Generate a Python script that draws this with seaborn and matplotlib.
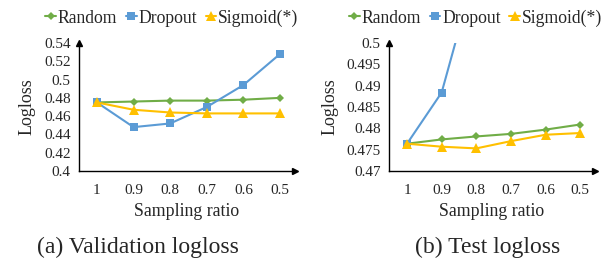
import matplotlib
matplotlib.use("Agg")
import matplotlib.pyplot as plt
import seaborn as sns
import numpy as np
import pandas as pd

ratios = ["1", "0.9", "0.8", "0.7", "0.6", "0.5"]
methods = ["Random", "Dropout", "Sigmoid(*)"]

# (a) validation logloss
val_random = [0.475, 0.476, 0.477, 0.477, 0.478, 0.480]
val_dropout = [0.475, 0.448, 0.452, 0.470, 0.494, 0.528]
val_sigmoid = [0.475, 0.467, 0.464, 0.463, 0.463, 0.463]

# (b) test logloss (dropout leaves the plotted range after 0.9)
test_random = [0.4764, 0.4774, 0.4781, 0.4787, 0.4797, 0.4809]
test_dropout = [0.4764, 0.4884, 0.5178, 0.530, 0.545, 0.560]
test_sigmoid = [0.4764, 0.4757, 0.4753, 0.4770, 0.4785, 0.4789]

colors = {"Random": "#70AD47", "Dropout": "#5B9BD5", "Sigmoid(*)": "#FFC000"}
markers = {"Random": "D", "Dropout": "s", "Sigmoid(*)": "^"}
msizes = {"Random": 4.5, "Dropout": 5.5, "Sigmoid(*)": 7}


def to_frame(r, d, s):
    rows = []
    for name, vals in zip(methods, [r, d, s]):
        for i, v in enumerate(vals):
            rows.append({"pos": i, "method": name, "logloss": v})
    return pd.DataFrame(rows)


sns.set_style("white")
plt.rcParams["font.family"] = ["Liberation Serif", "DejaVu Serif"]

fig = plt.figure(figsize=(6.09, 2.61), dpi=100)
ax1 = fig.add_axes([0.1297, 0.3448, 0.3547, 0.4904])
ax2 = fig.add_axes([0.6388, 0.3448, 0.3383, 0.4904])


def draw(ax, df, ylim, yticks, xlim, legx):
    for name in methods:
        sub = df[df.method == name]
        sns.lineplot(data=sub, x="pos", y="logloss", ax=ax, color=colors[name],
                     marker=markers[name], markersize=msizes[name],
                     markeredgewidth=0, linewidth=1.5, label=name)
    ax.set_ylim(*ylim)
    ax.set_xlim(*xlim)
    ax.set_yticks(yticks)
    ax.set_yticklabels([f"{t:g}" for t in yticks], fontsize=11)
    ax.set_xticks(range(len(ratios)))
    ax.set_xticklabels(ratios, fontsize=11)
    ax.tick_params(axis="both", length=0)
    ax.tick_params(axis="x", pad=9)
    ax.tick_params(axis="y", pad=6)
    ax.set_xlabel("Sampling ratio", fontsize=12.8, labelpad=5)
    ax.set_ylabel("Logloss", fontsize=13, labelpad=6)
    for sp in ["top", "right"]:
        ax.spines[sp].set_visible(False)
    for sp in ["left", "bottom"]:
        ax.spines[sp].set_color("black")
        ax.spines[sp].set_linewidth(1.0)
    ax.plot(1, 0, ">k", transform=ax.transAxes, clip_on=False, markersize=5)
    ax.plot(0, 1, "^k", transform=ax.transAxes, clip_on=False, markersize=5)
    ax.legend(loc="center", bbox_to_anchor=(legx, 1.195), ncol=3,
              frameon=False, fontsize=12.7, handlelength=0.6,
              handletextpad=0.1, columnspacing=0.5, borderaxespad=0,
              borderpad=0)


draw(ax1, to_frame(val_random, val_dropout, val_sigmoid), (0.4, 0.54),
     np.round(np.arange(0.4, 0.5401, 0.02), 3), (-0.49, 5.41), 0.43)
draw(ax2, to_frame(test_random, test_dropout, test_sigmoid), (0.47, 0.5),
     np.round(np.arange(0.47, 0.5001, 0.005), 4), (-0.52, 5.43), 0.42)

fig.text(138 / 609, 1 - 247 / 261, "(a) Validation logloss", ha="center",
         va="center", fontsize=17)
fig.text(488 / 609, 1 - 247 / 261, "(b) Test logloss", ha="center",
         va="center", fontsize=17)

fig.savefig("out.png", dpi=100)
